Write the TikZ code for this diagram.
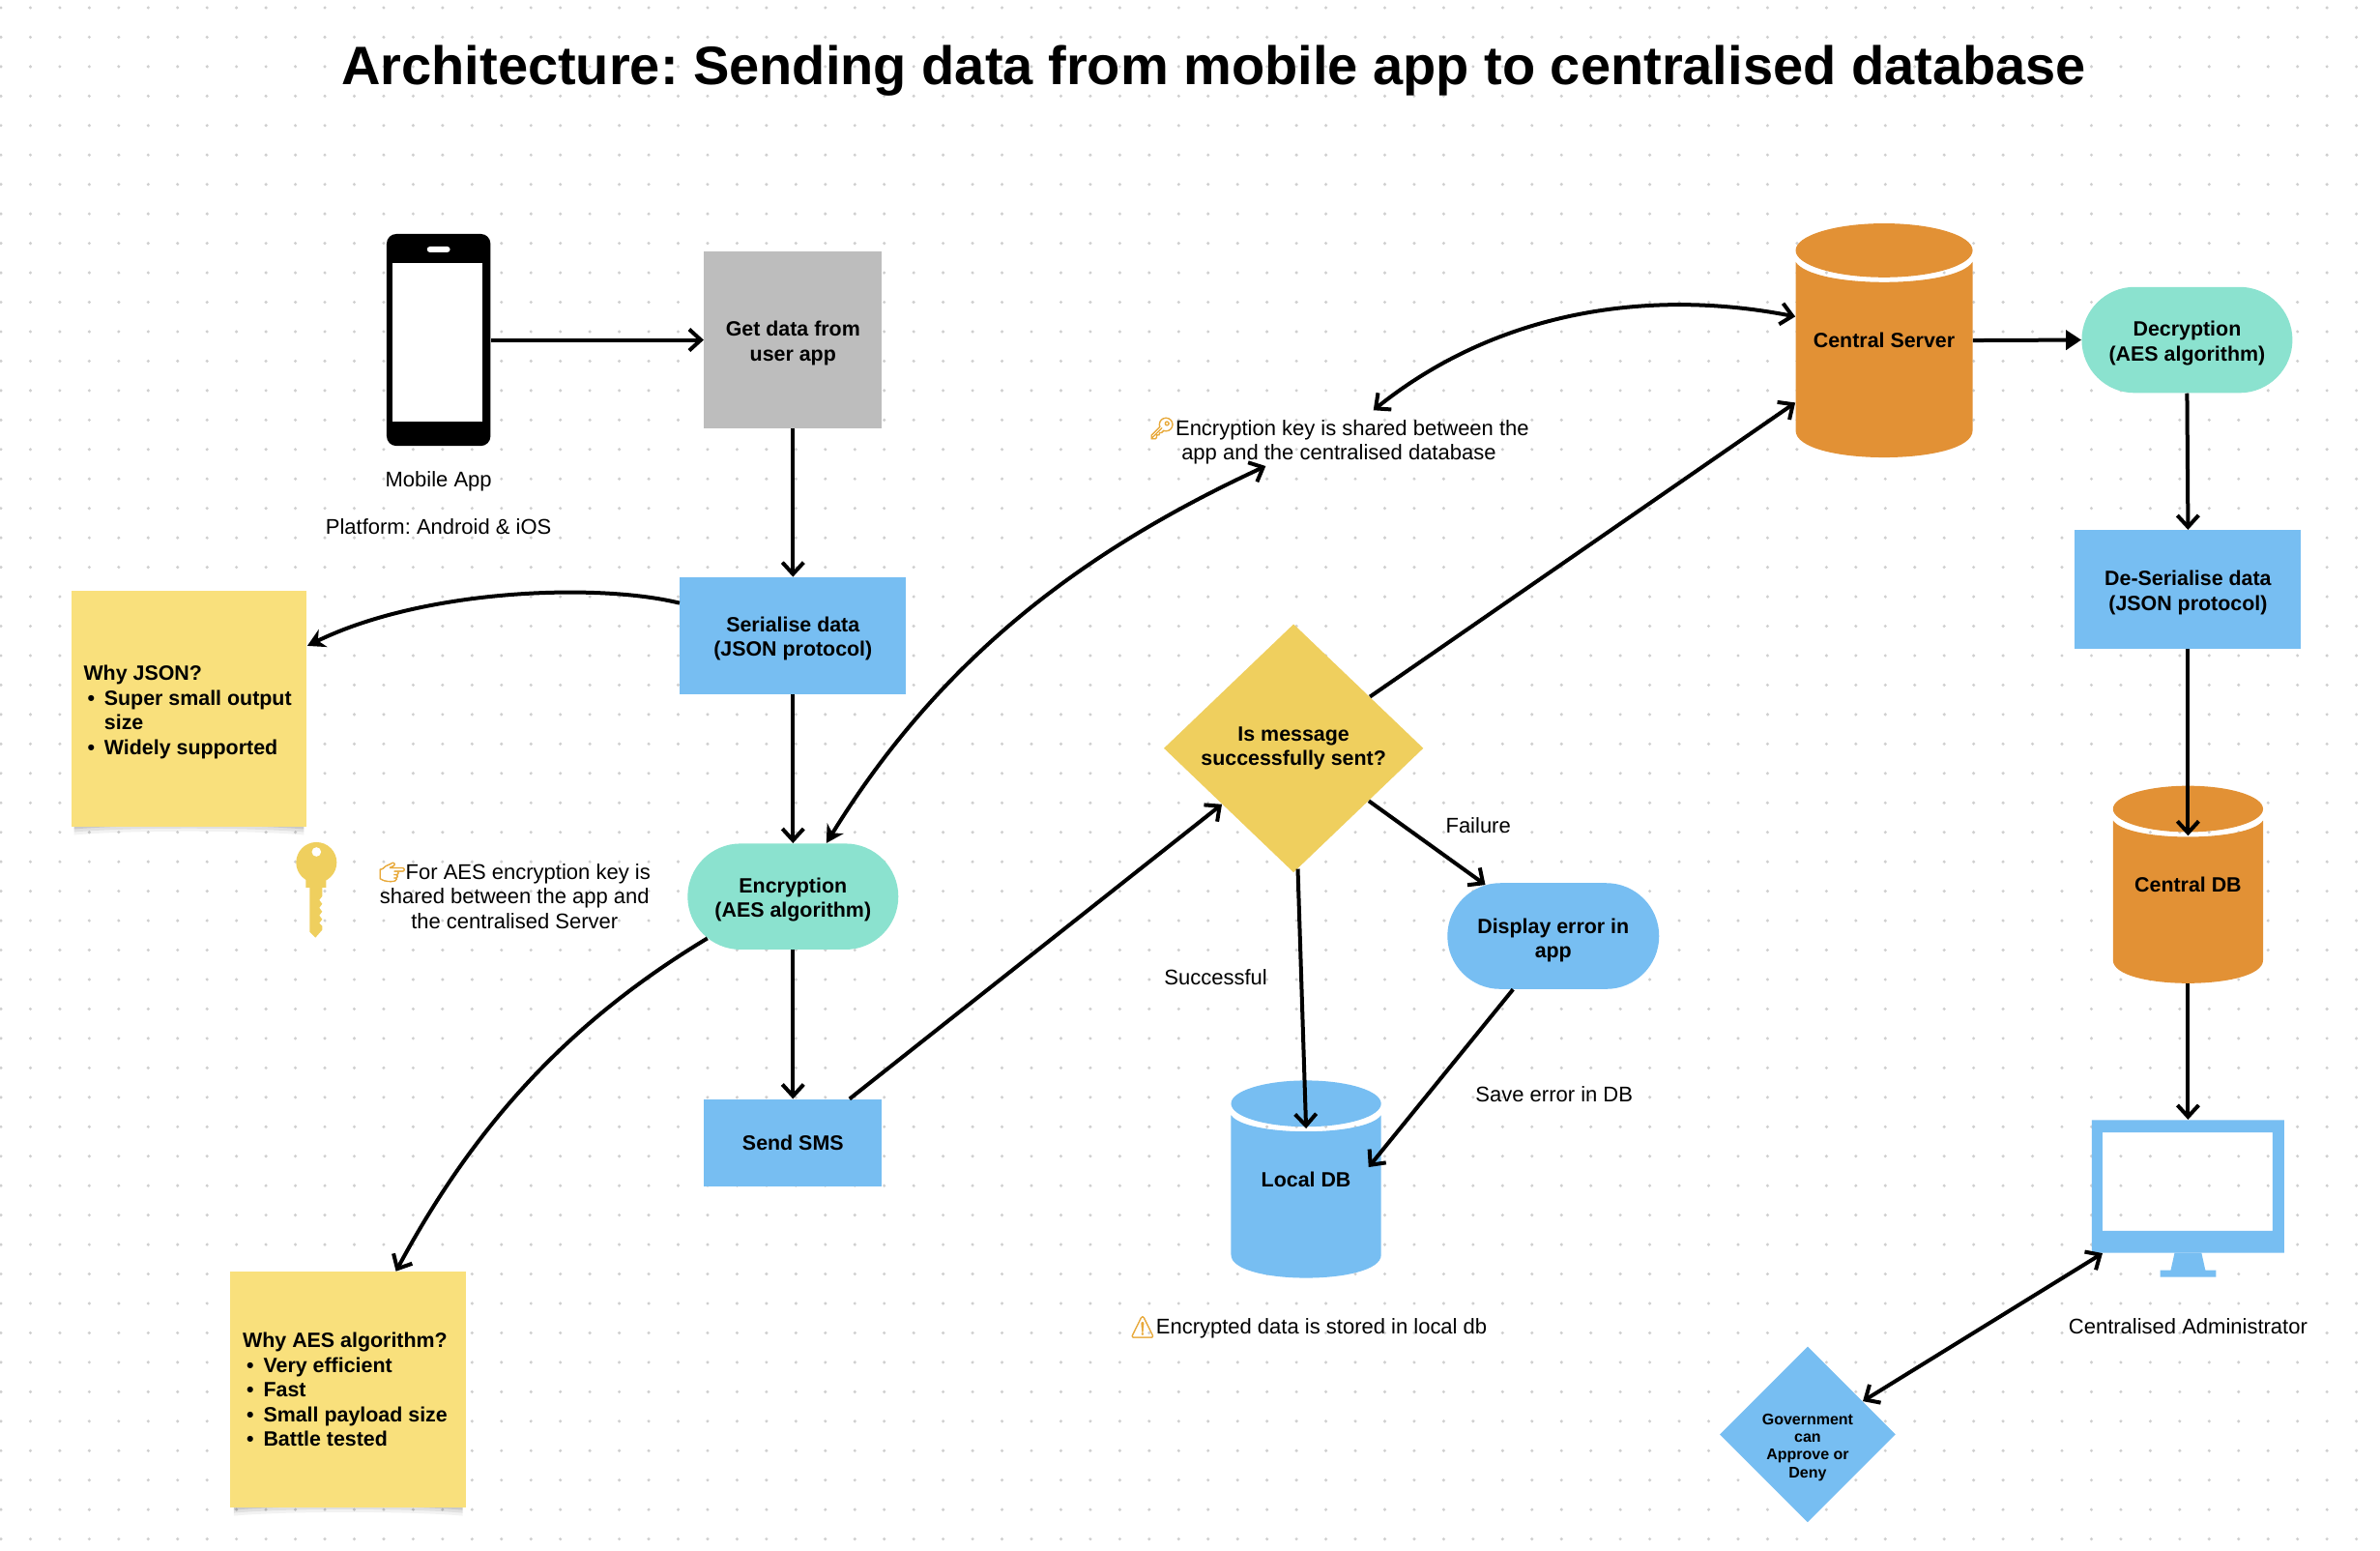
\documentclass[tikz,border=0pt]{standalone}
\usepackage{fontspec}
\setmainfont{Liberation Sans}
\newfontfamily\emojifont[FakeBold=2]{Noto Emoji}
\usetikzlibrary{arrows.meta,shapes.geometric,shapes.misc}
\definecolor{cgrey}{HTML}{BDBDBD}
\definecolor{cblue}{HTML}{77BEF2}
\definecolor{cteal}{HTML}{8BE2CF}
\definecolor{corange}{HTML}{E29135}
\definecolor{cgold}{HTML}{EFCF5E}
\definecolor{csticky}{HTML}{F9E07C}
\definecolor{cdot}{HTML}{CFCFCF}
\definecolor{cemoji}{HTML}{E8A93A}
\newcommand{\tsmall}{\fontsize{11}{12.7}\selectfont}
\newcommand{\tbold}{\fontsize{10.7}{12.7}\selectfont\bfseries}
\newcommand{\bl}{\makebox[10.7pt][l]{\hspace{2pt}\textbullet}}
\newcommand{\tp}{\rule{0pt}{11.2pt}}
\newcommand{\tq}{\rule{0pt}{12.2pt}}
% name, x1, y1, x2, y2, ry, colour, text
\newcommand{\dbcyl}[8]{%
  \pgfmathsetmacro{\cxv}{(#2+#4)/2}
  \pgfmathsetmacro{\cyv}{(#3+#5)/2}
  \pgfmathsetmacro{\rxv}{(#4-#2)/2}
  \pgfmathsetmacro{\etop}{#3+#6}
  \pgfmathsetmacro{\eside}{\etop+12}
  \pgfmathsetmacro{\ectl}{\etop+(8*#6+16)/6}
  \pgfmathsetmacro{\ebot}{#5-#6}
  \pgfmathsetmacro{\ebc}{\ebot+4/3*#6}
  \fill[#7] (\cxv,\etop) ellipse [x radius=\rxv, y radius=#6];
  \fill[#7] (#2,\eside) .. controls (#2+0.2*\rxv,\ectl) and (#4-0.2*\rxv,\ectl) .. (#4,\eside)
     -- (#4,\ebot) .. controls (#4,\ebc) and (#2,\ebc) .. (#2,\ebot) -- cycle;
  \node[boldtext,inner sep=0pt,minimum width={(#4-#2)*0.4975pt},minimum height={(#5-#3)*0.498pt}] (#1) at (\cxv,\cyv) {#8};
}
\newcommand{\stickyshadow}[4]{%
  \foreach \d/\o in {9/0.05,6/0.07,3/0.10}{
    \fill[black,opacity=\o] (#1+3,#4-20) -- (#3-3,#4-20) -- (#3-3,#4+\d) .. controls (#3-60,#4+\d-5) and (#1+60,#4+\d-5) .. (#1+3,#4+\d) -- cycle;
  }
}
\tikzset{
  x=0.4975pt,y=-0.498pt,
  boldtext/.style={font=\tbold,align=center,text=black},
  plaintext/.style={font=\tsmall,align=center,text=black,inner sep=0pt},
  boxrect/.style={rectangle,boldtext,inner sep=0pt},
  pill/.style={rounded rectangle,fill=cteal,boldtext,inner sep=0pt,minimum width=109pt,minimum height=54.8pt},
  sticky/.style={rectangle,fill=csticky,font=\tbold,align=flush left,inner xsep=6.5pt,inner ysep=0pt,text width=109pt,minimum width=122pt,minimum height=122pt},
  conn/.style={line width=2pt,-{Straight Barb[length=6pt,width=11pt,line width=2pt]}},
  connboth/.style={line width=2pt,{Straight Barb[length=6pt,width=11pt,line width=2pt]}-{Straight Barb[length=6pt,width=11pt,line width=2pt]}},
  connfill/.style={line width=2pt,-{Triangle[length=8pt,width=10pt]}},
}
\begin{document}
\frenchspacing
\begin{tikzpicture}
\useasboundingbox (0,0) rectangle (2474.6,1610.4);
\fill[white] (0,0) rectangle (2474.6,1610.4);
\foreach \i in {0,...,80}{\foreach \j in {0,...,52}{\fill[cdot] ({1+\i*30.613},{8+\j*30.58}) circle (0.85pt);}}

\node[font=\fontsize{28}{30}\selectfont\bfseries,inner sep=0pt] (title) at (1262,73) {Architecture: Sending data from mobile app to centralised database};

% phone
\node[rectangle,rounded corners=5pt,fill=black,minimum width=53.7pt,minimum height=109.6pt,inner sep=0pt] (phone) at (456,353) {};
\fill[white] (408,273) rectangle (502,438);
\fill[white,rounded corners=1.5pt] (444,256) rectangle (468,262);
\node[plaintext] (mobile) at (456,500) {Mobile App};
\node[plaintext] (platform) at (456,547) {Platform: Android \& iOS};

\node[boxrect,fill=cgrey,minimum width=92pt,minimum height=91.2pt] (getd) at (824.5,353) {\tp Get data from\\user app};
\node[boxrect,fill=cblue,minimum width=117pt,minimum height=60.3pt] (ser) at (824.5,660) {\tp Serialise data\\(JSON protocol)};
\node[pill] (enc) at (824.5,931) {\tp Encryption\\(AES algorithm)};
\node[boxrect,fill=cblue,minimum width=92pt,minimum height=45.3pt] (sms) at (824.5,1187) {Send SMS};

\stickyshadow{74}{614}{319}{858}
\node[sticky] (sjson) at (196.5,736) {\tp Why JSON?\\\bl Super small output\\\hspace*{10.7pt}size\\\bl Widely supported};
\stickyshadow{240}{1321}{484}{1565}
\node[sticky] (saes) at (362,1443) {Why AES algorithm?\\\bl Very efficient\\\bl Fast\\\bl Small payload size\\\bl Battle tested};

% key
\begin{scope}[yshift=-1.8pt]
\fill[cgold] (329,892) circle (10.5pt);
\fill[cgold] (318,909) -- (339,909) -- (339,918) -- (335,918) -- (335,927) -- (332,931) -- (335,935) -- (332,939) -- (335,943) -- (332,947) -- (335,951) -- (332,955) -- (335,958) -- (335,962) -- (328,970) -- (322,964) -- (322,918) -- (318,918) -- cycle;
\fill[white] (329,881) circle (2.4pt);
\end{scope}

\node[plaintext] (aesnote) at (535,930) {{\emojifont\textcolor{cemoji}{👉}}For AES encryption key is\\shared between the app and\\the centralised Server};
\node[plaintext] (keynote) at (1392,458) {{\emojifont\textcolor{cemoji}{🔑}}Encryption key is shared between the\\app and the centralised database};

\node[diamond,fill=cgold,boldtext,inner sep=0pt,minimum width=134.3pt,minimum height=128.5pt] (diam) at (1345,777) {Is message\\successfully sent?};
\node[rounded rectangle,fill=cblue,boldtext,inner sep=0pt,minimum width=109.5pt,minimum height=54.8pt] (disp) at (1615,972) {\tq Display error in\\app};
\dbcyl{ldb}{1280}{1122}{1436}{1327}{24}{cblue}{Local DB}
\node[plaintext] (failure) at (1537,857) {Failure};
\node[plaintext] (success) at (1264,1015) {Successful};
\node[plaintext] (saveerr) at (1616,1136) {Save error in DB};
\node[plaintext] (enclocal) at (1360,1378.5) {{\emojifont\textcolor{cemoji}{⚠}}Encrypted data is stored in local db};

\dbcyl{srv}{1867}{232}{2051}{475}{28}{corange}{Central Server}
\node[pill] (dec) at (2274,353) {\tp Decryption\\(AES algorithm)};
\node[boxrect,fill=cblue,minimum width=117pt,minimum height=61.2pt] (deser) at (2275,612) {\tp De-Serialise data\\(JSON protocol)};
\dbcyl{cdb}{2197}{816}{2353}{1021}{24}{corange}{Central DB}

% monitor
\fill[cblue,even odd rule] (2175,1163) rectangle (2375,1301) (2186,1176) rectangle (2363,1278);
\fill[cblue] (2261,1301) -- (2289,1301) -- (2293,1319) -- (2304,1319) -- (2304,1326) -- (2246,1326) -- (2246,1319) -- (2257,1319) -- cycle;
\node[rectangle,minimum width=99.5pt,minimum height=68.7pt,inner sep=0pt] (mon) at (2275,1232) {};
\node[plaintext] (monlab) at (2275,1377) {Centralised Administrator};
\node[diamond,fill=cblue,inner sep=0pt,minimum width=91pt,minimum height=91pt] (gov) at (1879.5,1489.5) {};
\node[font=\fontsize{8}{9.1}\selectfont\bfseries,align=center,inner sep=0pt] (govtext) at (1879.5,1503) {Government\\can\\Approve or\\Deny};

\coordinate (keytop) at (1428,426);
\coordinate (keybot) at (1316,484);
\coordinate (ldbin) at ([yshift=-25pt]ldb.north);
\coordinate (ldbside) at (1423,1212);
\coordinate (cdbin) at ([yshift=-26pt]cdb.north);

\draw[conn] (phone.east) -- (getd.west);
\draw[conn] (getd.south) -- (ser.north);
\draw[line width=2pt,-{Stealth[length=9pt,width=10pt]}] (ser.164.6) .. controls (620,605) and (440,612) .. (sjson.28.5);
\draw[conn] (ser.south) -- (enc.north);
\draw[line width=2pt,{Stealth[length=9pt,width=10pt]}-{Straight Barb[length=6pt,width=11pt,line width=2pt]}] (enc.58) .. controls (980,680) and (1130,570) .. (keybot);
\draw[conn] (enc.206) .. controls (585,1065) and (490,1175) .. (saes.68.5);
\draw[conn] (enc.south) -- (sms.north);
\draw[conn] (sms.38.7) -- (diam.218.5);
\draw[conn] (diam.34) -- (srv.215.5);
\draw[conn] (diam.-35) -- (disp.143.4);
\draw[conn] (diam.-88.7) -- (ldbin);
\draw[conn] (disp.233) -- (ldbside);
\draw[connboth] (keytop) .. controls (1560,320) and (1720,300) .. (srv.165.4);
\draw[connfill] (srv.east) -- (dec.west);
\draw[conn] (dec.south) -- (deser.north);
\draw[conn] (deser.south) -- (cdbin);
\draw[conn] (cdb.south) -- (mon.north);
\draw[connboth] (mon.218.5) -- (gov.31);
\end{tikzpicture}
\end{document}
